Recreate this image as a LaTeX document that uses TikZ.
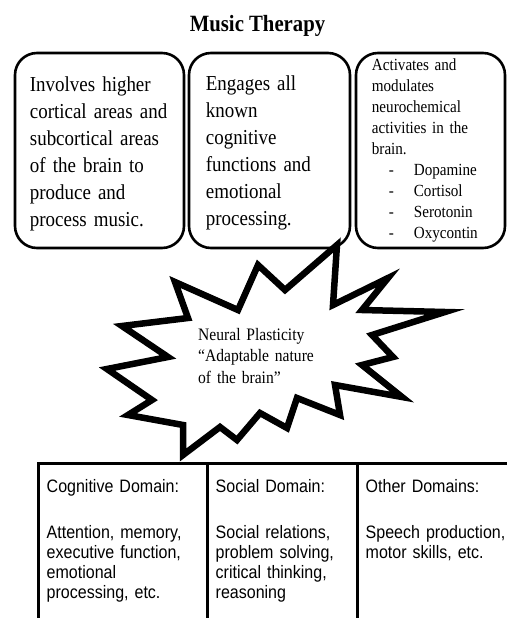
\documentclass[tikz,border=0pt]{standalone}
\usepackage{fontspec}
\setmainfont{Liberation Serif}
\newfontfamily\tallserif[FakeStretch=0.89]{Liberation Serif}
\newfontfamily\tallsans[FakeStretch=0.89]{Liberation Sans}
\begin{document}
\begin{tikzpicture}[x=1pt,y=-1pt,
	frame/.style={draw,line width=2.6pt,rounded corners=22pt,inner sep=0pt},
	bigtxt/.style={anchor=base west,inner sep=0pt,text width=165pt,align=left,font=\tallserif\fontsize{21.3}{27}\selectfont},
	smalltxt/.style={anchor=base west,inner sep=0pt,text width=130pt,align=left,font=\tallserif\fontsize{17}{21}\selectfont},
	cell/.style={draw,line width=3pt,inner sep=0pt,minimum height=260pt},
	celltxt/.style={anchor=base west,inner sep=0pt,text width=150pt,align=left,font=\tallsans\fontsize{18}{20}\selectfont}]
\useasboundingbox (0,0) rectangle (506,618);
%title
\path (257.5,32) node[anchor=base,inner sep=0pt,font=\tallserif\bfseries\fontsize{23.3}{26}\selectfont] (title) {Music Therapy};
%top boxes
\path (99.5,150.5) node[frame,minimum width=169pt,minimum height=195pt] (cortex) {};
\path (269.5,150.5) node[frame,minimum width=161pt,minimum height=195pt] (cognit) {};
\path (430.5,150.5) node[frame,minimum width=149pt,minimum height=195pt] (neuro) {};
\node[bigtxt] (cortex text) at ([shift={(16,40)}]cortex.north west)
	{Involves higher\\cortical areas and\\subcortical areas\\of the brain to\\produce and\\process music.};
\node[bigtxt] (cognit text) at ([shift={(18,39)}]cognit.north west)
	{Engages all\\known\\cognitive\\functions and\\emotional\\processing.};
\node[smalltxt] (neuro text) at ([shift={(17,19)}]neuro.north west)
	{Activates and\\modulates\\neurochemical\\activities in the\\brain.\\
	\hspace*{17pt}\makebox[25pt][l]{-}Dopamine\\
	\hspace*{17pt}\makebox[25pt][l]{-}Cortisol\\
	\hspace*{17pt}\makebox[25pt][l]{-}Serotonin\\
	\hspace*{17pt}\makebox[25pt][l]{-}Oxycontin};
%star
\filldraw[fill=white,line width=6.5pt] (337,245) -- (333,305) -- (388,278) -- (362,310)
	-- (445,312) -- (372,335) -- (393,357) -- (362,365) -- (402,397) -- (335,385)
	-- (340,415) -- (297,398) -- (287,428) -- (260,413) -- (237,440) -- (220,427)
	-- (183,455) -- (183,425) -- (128,415) -- (152,400) -- (107,369) -- (168,357)
	-- (122,326) -- (188,318) -- (175,282) -- (238,310) -- (258,265) -- (285,290) -- cycle;
\node[anchor=base west,inner sep=0pt,text width=130pt,align=left,font=\tallserif\fontsize{17.5}{21.5}\selectfont] (plastic) at (198,340)
	{Neural Plasticity\\“Adaptable nature\\of the brain”};
%domains
\path (122.5,593) node[cell,minimum width=169pt] (cog) {};
\path (282,593) node[cell,minimum width=150pt] (soc) {};
\path (458.5,593) node[cell,minimum width=203pt] (other) {};
\node[celltxt] (cog head) at ([shift={(10,31)}]cog.north west) {Cognitive Domain:};
\node[celltxt] (cog body) at ([shift={(10,77)}]cog.north west)
	{Attention, memory,\\executive function,\\emotional\\processing, etc.};
\node[celltxt] (soc head) at ([shift={(10,31)}]soc.north west) {Social Domain:};
\node[celltxt] (soc body) at ([shift={(10,77)}]soc.north west)
	{Social relations,\\problem solving,\\critical thinking,\\reasoning};
\node[celltxt] (other head) at ([shift={(10,31)}]other.north west) {Other Domains:};
\node[celltxt] (other body) at ([shift={(10,77)}]other.north west)
	{Speech production,\\motor skills, etc.};
\end{tikzpicture}
\end{document}
